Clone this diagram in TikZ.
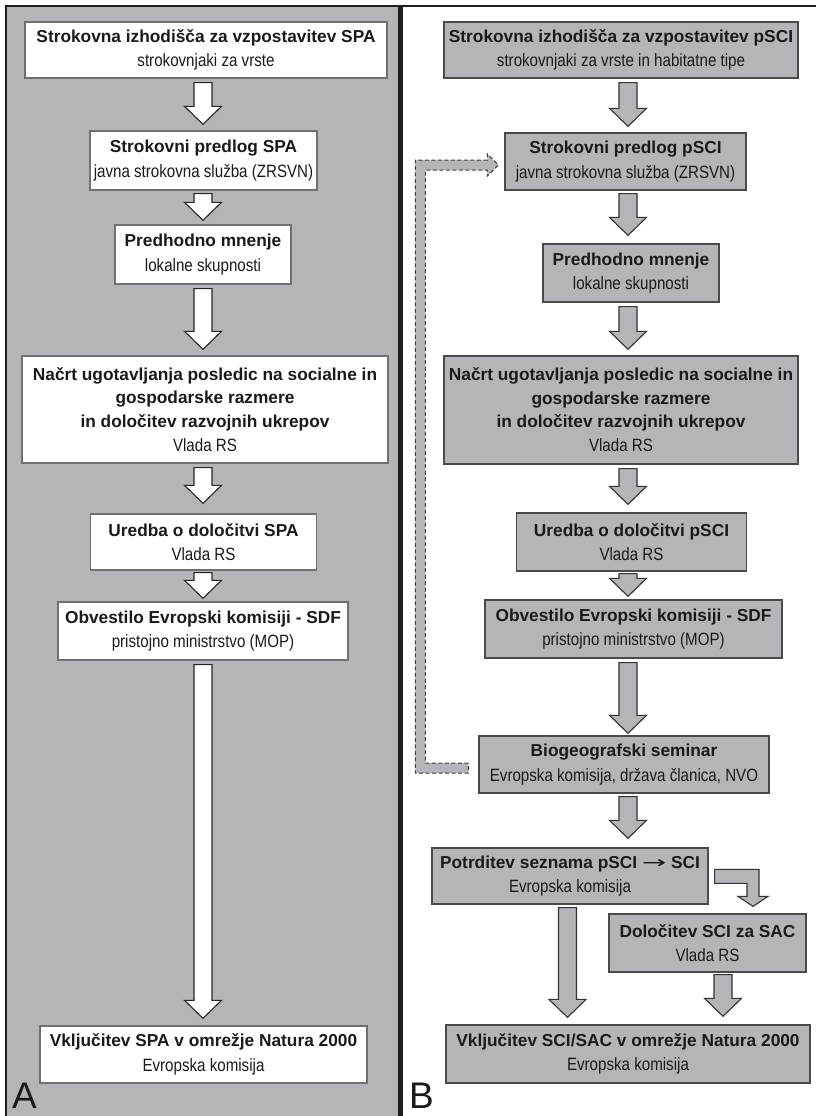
\documentclass[tikz,border=0pt]{standalone}
\usepackage{fontspec}
\setmainfont{Liberation Sans}
\newfontfamily\subf[FakeStretch=0.85]{Liberation Sans}
\newfontfamily\dejavu{DejaVu Sans}
\usetikzlibrary{calc}
\definecolor{panel}{HTML}{B4B5B9}
\definecolor{frame}{HTML}{1E1E1E}
\definecolor{edgeA}{HTML}{707070}
\definecolor{edgeB}{HTML}{4A4A4A}
\definecolor{ink}{HTML}{1A1A1A}
\newcommand{\subtxt}[1]{{\fontsize{17.8}{23.3}\selectfont\subf\mdseries #1}}
\newcommand{\varrow}[3]{\draw[#1] let \p1=#2, \p2=#3 in
  (\x1-9pt,\y1) -- (\x1+9pt,\y1) -- (\x1+9pt,\y2+18pt) -- (\x1+18.5pt,\y2+18pt) --
  (\x1,\y2) -- (\x1-18.5pt,\y2+18pt) -- (\x1-9pt,\y2+18pt) -- cycle;}
\tikzset{
  boxA/.style={draw=edgeA, line width=1.3pt, fill=white, inner sep=0pt, align=center,
    text=ink, font=\fontsize{17.3}{23.3}\selectfont\bfseries},
  boxB/.style={draw=edgeB, line width=1.3pt, fill=panel, inner sep=0pt, align=center,
    text=ink, font=\fontsize{17.3}{23.3}\selectfont\bfseries},
  arrA/.style={draw=black!85, line width=1.1pt, fill=white, line join=miter},
  arrB/.style={draw=black!80, line width=1.1pt, fill=panel, line join=miter},
  arrD/.style={draw=black!75, line width=1pt, fill=panel, dash pattern=on 4pt off 2.5pt},
  letter/.style={inner sep=0pt, text=ink, font=\fontsize{37}{37}\selectfont}
}
\begin{document}
\begin{tikzpicture}[x=1pt,y=-1pt]
\useasboundingbox (0,0) rectangle (816,1116);
\fill[white] (0,0) rectangle (816,1116);
% panels and frame
\fill[panel] (6,6) rectangle (400,1116);
\draw[frame, line width=2.5pt] (6,1116) -- (6,6) -- (816,6);
\draw[frame, line width=5pt] (400.5,6) -- (400.5,1116);

% ---------- Panel A ----------
\node[boxA, minimum width=362, minimum height=56] (A1) at (206,50)
  {Strokovna izhodišča za vzpostavitev SPA\\[1pt]\subtxt{strokovnjaki za vrste}};
\node[boxA, minimum width=227, minimum height=59] (A2) at (203.5,160.5)
  {Strokovni predlog SPA\\[1pt]\subtxt{javna strokovna služba (ZRSVN)}};
\node[boxA, minimum width=176, minimum height=59] (A3) at (203,254.5)
  {Predhodno mnenje\\[1pt]\subtxt{lokalne skupnosti}};
\node[boxA, minimum width=366, minimum height=107] (A4) at (205,409.5)
  {Načrt ugotavljanja posledic na socialne in\\gospodarske razmere\\in določitev razvojnih ukrepov\\[1pt]\subtxt{Vlada RS}};
\node[boxA, minimum width=226, minimum height=56] (A5) at (203.5,542)
  {Uredba o določitvi SPA\\[1pt]\subtxt{Vlada RS}};
\node[boxA, minimum width=290, minimum height=58] (A6) at (203,631)
  {Obvestilo Evropski komisiji - SDF\\[1pt]\subtxt{pristojno ministrstvo (MOP)}};
\node[boxA, minimum width=327, minimum height=57] (A7) at (203.5,1054.5)
  {Vključitev SPA v omrežje Natura 2000\\[1pt]\subtxt{Evropska komisija}};

\coordinate (ax) at (203,0);
\varrow{arrA}{($(A1.south -| ax)+(0,4)$)}{($(A2.north -| ax)+(0,-6)$)}
\varrow{arrA}{($(A2.south -| ax)+(0,3)$)}{($(A3.north -| ax)+(0,-4)$)}
\varrow{arrA}{($(A3.south -| ax)+(0,4)$)}{($(A4.north -| ax)+(0,-6)$)}
\varrow{arrA}{($(A4.south -| ax)+(0,4)$)}{($(A5.north -| ax)+(0,-10)$)}
\varrow{arrA}{($(A5.south -| ax)+(0,2)$)}{($(A6.north -| ax)+(0,-3)$)}
\varrow{arrA}{($(A6.south -| ax)+(0,4)$)}{($(A7.north -| ax)+(0,-7)$)}

\node[letter, anchor=base west] (LA) at (12,1108) {A};

% ---------- Panel B ----------
\node[boxB, minimum width=354, minimum height=56] (B1) at (621,50)
  {Strokovna izhodišča za vzpostavitev pSCI\\[1pt]\subtxt{strokovnjaki za vrste in habitatne tipe}};
\node[boxB, minimum width=241, minimum height=57] (B2) at (625.5,161.5)
  {Strokovni predlog pSCI\\[1pt]\subtxt{javna strokovna služba (ZRSVN)}};
\node[boxB, minimum width=176, minimum height=58] (B3) at (631,273)
  {Predhodno mnenje\\[1pt]\subtxt{lokalne skupnosti}};
\node[boxB, minimum width=354, minimum height=108] (B4) at (621,410)
  {Načrt ugotavljanja posledic na socialne in\\gospodarske razmere\\in določitev razvojnih ukrepov\\[1pt]\subtxt{Vlada RS}};
\node[boxB, minimum width=230, minimum height=58] (B5) at (631.5,542)
  {Uredba o določitvi pSCI\\[1pt]\subtxt{Vlada RS}};
\node[boxB, minimum width=297, minimum height=58] (B6) at (633.5,629)
  {Obvestilo Evropski komisiji - SDF\\[1pt]\subtxt{pristojno ministrstvo (MOP)}};
\node[boxB, minimum width=290, minimum height=57] (B7) at (624,764.5)
  {Biogeografski seminar\\[1pt]\subtxt{Evropska komisija, država članica, NVO}};
\node[boxB, minimum width=276, minimum height=56] (B8) at (570,876)
  {Potrditev seznama pSCI {\dejavu\mdseries\fontsize{17}{17}\selectfont\scalebox{1.7}[1]{→}} SCI\\[1pt]\subtxt{Evropska komisija}};
\node[boxB, minimum width=197, minimum height=58] (B9) at (707.5,943)
  {Določitev SCI za SAC\\[1pt]\subtxt{Vlada RS}};
\node[boxB, minimum width=364, minimum height=58] (B10) at (628,1054)
  {Vključitev SCI/SAC v omrežje Natura 2000\\[1pt]\subtxt{Evropska komisija}};

\coordinate (bx) at (628,0);
\varrow{arrB}{($(B1.south -| bx)+(0,4)$)}{($(B2.north -| bx)+(0,-6)$)}
\varrow{arrB}{($(B2.south -| bx)+(0,3)$)}{($(B3.north -| bx)+(0,-8)$)}
\varrow{arrB}{($(B3.south -| bx)+(0,4)$)}{($(B4.north -| bx)+(0,-6)$)}
\varrow{arrB}{($(B4.south -| bx)+(0,4)$)}{($(B5.north -| bx)+(0,-8)$)}
\varrow{arrB}{($(B5.south -| bx)+(0,2)$)}{($(B6.north -| bx)+(0,-3)$)}
\varrow{arrB}{($(B6.south -| bx)+(0,4)$)}{($(B7.north -| bx)+(0,-2)$)}
\varrow{arrB}{($(B7.south -| bx)+(0,3)$)}{($(B8.north -| bx)+(0,-9)$)}
\coordinate (cx) at (567.5,0);
\coordinate (dx) at (723,0);
\varrow{arrB}{($(B8.south -| cx)+(0,3)$)}{($(B10.north -| cx)+(0,-7)$)}
\varrow{arrB}{($(B9.south -| dx)+(0,2)$)}{($(B10.north -| dx)+(0,-8)$)}

% bent arrow from B8 to B9
\coordinate (bs) at ($(B8.north east)+(6,22)$);
\coordinate (bt) at ($(B9.north)+(45.5,-7)$);
\draw[arrB] let \p1=(bs), \p2=(bt) in
  (\x1,\y1) -- (\x2+6pt,\y1) -- (\x2+6pt,\y2+10pt) -- (\x2+15pt,\y2+10pt) --
  (\x2,\y2) -- (\x2-15pt,\y2+10pt) -- (\x2-6pt,\y2+10pt) -- (\x2-6pt,\y1-14pt) --
  (\x1,\y1-14pt) -- cycle;

% dashed feedback arrow from B7 to B2
\coordinate (ds) at ($(B7.west)+(-10,3.5)$);
\coordinate (dt) at ($(B2.west)+(-6,3.5)$);
\draw[arrD] let \p1=(ds), \p2=(dt), \n1={\x1-48pt} in
  (\x1,\y1+5pt) -- (\n1+5pt,\y1+5pt) -- (\n1+5pt,\y2-5pt) -- (\x2-11pt,\y2-5pt) --
  (\x2-11pt,\y2-11pt) -- (\x2,\y2) -- (\x2-11pt,\y2+11pt) -- (\x2-11pt,\y2+5pt) --
  (\n1-5pt,\y2+5pt) -- (\n1-5pt,\y1-5pt) -- (\x1,\y1-5pt) -- cycle;

\node[letter, anchor=base west] (LB) at (409,1108) {B};
\end{tikzpicture}
\end{document}
